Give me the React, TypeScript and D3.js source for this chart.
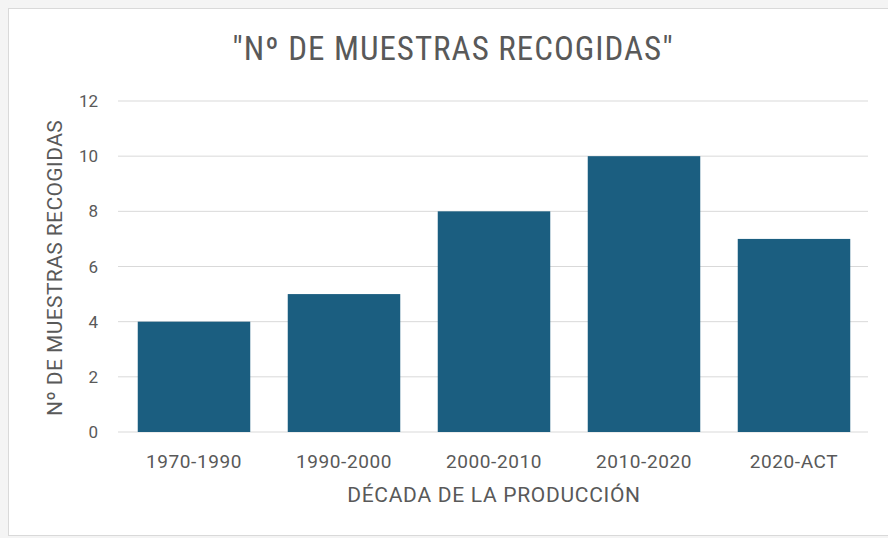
import React from "react";
import * as d3 from "d3";

const categories = ["1970-1990", "1990-2000", "2000-2010", "2010-2020", "2020-ACT"];
const values = [4, 5, 8, 10, 7];
const yTicks = [0, 2, 4, 6, 8, 10, 12];
const title = "\"Nº DE MUESTRAS RECOGIDAS\"";
const xTitle = "DÉCADA DE LA PRODUCCIÓN";
const yTitle = "Nº DE MUESTRAS RECOGIDAS";

const W = 888;
const H = 538;
const COND = "'Roboto Condensed', 'Liberation Sans Narrow', sans-serif";
const REG = "Roboto, 'Liberation Sans', sans-serif";

export default function App() {
  const x = d3.scaleBand<string>().domain(categories).range([119, 869]).paddingInner(0.25).paddingOuter(0.125);
  const y = d3.scaleLinear().domain([0, 12]).range([432, 101]);
  return (
    <svg width={W} height={H} style={{ position: "absolute", left: 0, top: 0, background: "#fff" }}>
      <rect x={0} y={0} width={W} height={H} fill="#f4f4f4" />
      <rect x={8.5} y={8.5} width={W + 10} height={H - 11} fill="#fff" stroke="#d9d9d9" />
      <text x={453} y={60} textAnchor="middle" fontFamily={COND} fontSize={33} letterSpacing={1} fill="#595959">{title}</text>
      {yTicks.map((t) => (
        <g key={t}>
          <line x1={118} x2={868} y1={y(t)} y2={y(t)} stroke="#d9d9d9" strokeWidth={1} />
          <text x={98} y={y(t) + 6} textAnchor="end" fontFamily={REG} fontSize={17} fill="#595959">{t}</text>
        </g>
      ))}
      {categories.map((c, i) => (
        <rect key={c} x={x(c)} y={y(values[i])} width={x.bandwidth()} height={y(0) - y(values[i])} fill="#1b5e80" />
      ))}
      {categories.map((c) => (
        <text key={c} x={(x(c) as number) + x.bandwidth() / 2} y={468} textAnchor="middle" fontFamily={REG} fontSize={19} letterSpacing={0.6} fill="#595959">{c}</text>
      ))}
      <text x={494} y={502} textAnchor="middle" fontFamily={REG} fontSize={21} letterSpacing={0.7} fill="#595959">{xTitle}</text>
      <text transform={`translate(62,268) rotate(-90)`} textAnchor="middle" fontFamily={REG} fontSize={21} letterSpacing={0.4} fill="#595959">{yTitle}</text>
    </svg>
  );
}
